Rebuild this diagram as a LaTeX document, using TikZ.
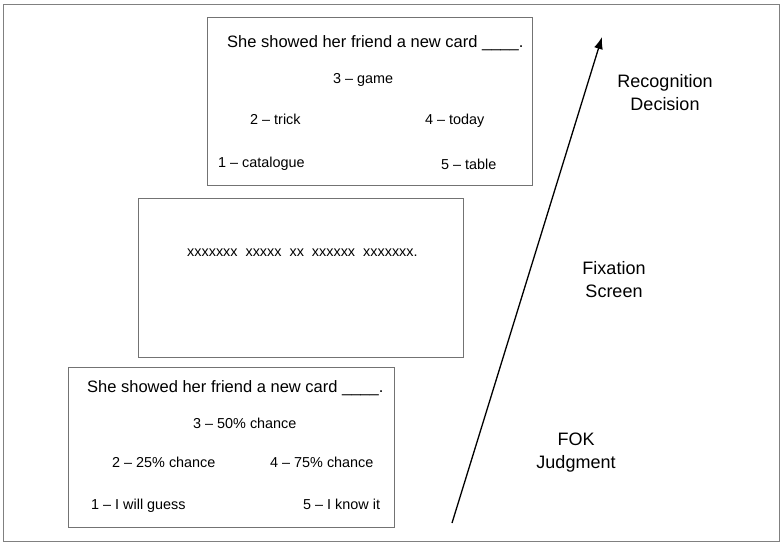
\documentclass[tikz,border=0pt]{standalone}
\usepackage{fontspec}
\setmainfont{Liberation Sans}
\usepackage{tikz}
\usetikzlibrary{arrows.meta,positioning}

\tikzset{
  card/.style={draw=black!55,line width=1pt,rectangle,anchor=north west,inner sep=0pt},
  cue/.style={anchor=base west,inner sep=0pt,font=\fontsize{16.5}{20}\selectfont},
  opt/.style={anchor=base west,inner sep=0pt,font=\fontsize{14.4}{17}\selectfont},
  stage/.style={align=center,inner sep=0pt,font=\fontsize{18}{23}\selectfont}
}

\begin{document}
\begin{tikzpicture}[x=1pt,y=-1pt]
\useasboundingbox (0,0) rectangle (783,546);
\draw[black!50,line width=1pt](3.5,4) rectangle (779.5,541.5);

% recognition decision screen
\node[card,minimum width=325pt,minimum height=168pt] (recog) at (207,17) {};
\node[cue] (rtitle) at (227,47) {She showed her friend a new card \_\_\_\_.};
\node[opt] (r3) at (333,83) {3 -- game};
\node[opt] (r2) at (250,124) {2 -- trick};
\node[opt] (r4) at (425,124) {4 -- today};
\node[opt] (r1) at (218,167) {1 -- catalogue};
\node[opt] (r5) at (441,169) {5 -- table};

% fixation screen
\node[card,minimum width=325pt,minimum height=159pt] (fix) at (138,198) {};
\node[opt] (mask) at (187,256) {xxxxxxx~~xxxxx~~xx~~xxxxxx~~xxxxxxx.};

% FOK judgment screen
\node[card,minimum width=326pt,minimum height=160pt] (fok) at (68,367) {};
\node[cue] (ftitle) at (87,392) {She showed her friend a new card \_\_\_\_.};
\node[opt] (f3) at (193,428) {3 -- 50\% chance};
\node[opt] (f2) at (112,467) {2 -- 25\% chance};
\node[opt] (f4) at (270,467) {4 -- 75\% chance};
\node[opt] (f1) at (91,509) {1 -- I will guess};
\node[opt] (f5) at (303,509) {5 -- I know it};

% time axis
\coordinate (tstart) at (452,523);
\coordinate (tend) at (602,37);
\draw[line width=1.3pt,-{Latex[length=12pt,width=9pt]}](tstart)--(tend);
\node[stage] (lrecog) at (665,93) {Recognition\\Decision};
\node[stage] (lfix) at (614,280) {Fixation\\Screen};
\node[stage] (lfok) at (576,453) {FOK\\Judgment};
\end{tikzpicture}
\end{document}
